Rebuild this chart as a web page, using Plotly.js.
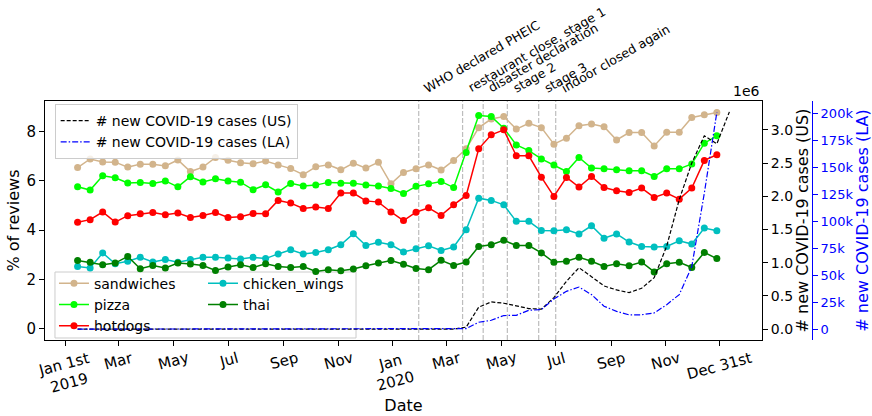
<!DOCTYPE html>
<html><head><meta charset="utf-8">
<script src="https://cdn.plot.ly/plotly-3.0.1.min.js"></script>
<style>html,body{margin:0;padding:0;background:#fff}</style>
</head><body><div id="chart" style="width:872px;height:416px"></div>
<script>
const dates = ['2019-01-14','2019-01-28','2019-02-11','2019-02-25','2019-03-11','2019-03-25','2019-04-08','2019-04-22','2019-05-06','2019-05-20','2019-06-03','2019-06-17','2019-07-01','2019-07-15','2019-07-29','2019-08-12','2019-08-26','2019-09-09','2019-09-23','2019-10-07','2019-10-21','2019-11-04','2019-11-18','2019-12-02','2019-12-16','2019-12-30','2020-01-13','2020-01-27','2020-02-10','2020-02-24','2020-03-09','2020-03-23','2020-04-06','2020-04-20','2020-05-04','2020-05-18','2020-06-01','2020-06-15','2020-06-29','2020-07-13','2020-07-27','2020-08-10','2020-08-24','2020-09-07','2020-09-21','2020-10-05','2020-10-19','2020-11-02','2020-11-16','2020-11-30','2020-12-14','2020-12-28','2021-01-11'];
const sandwiches = [6.54,6.89,6.77,6.76,6.56,6.68,6.68,6.61,6.85,6.38,6.56,6.95,6.84,6.74,6.70,6.81,6.65,6.50,6.25,6.57,6.65,6.45,6.72,6.52,6.76,5.88,6.34,6.49,6.65,6.44,6.83,7.30,8.16,8.51,8.61,8.10,8.34,8.16,7.49,7.73,8.24,8.31,8.20,7.66,7.96,7.96,7.42,7.97,7.97,8.57,8.68,8.77];
const pizza = [5.76,5.63,6.21,6.13,5.92,5.94,5.90,6.00,5.76,6.17,5.96,6.09,6.00,5.95,5.64,5.84,5.55,5.90,5.79,5.83,5.94,5.91,5.91,5.83,5.79,5.69,5.49,5.78,5.88,5.98,5.73,7.15,8.65,8.61,8.14,7.46,7.23,6.89,6.65,6.38,6.95,6.52,6.49,6.45,6.41,6.41,6.18,6.49,6.49,6.69,7.53,7.83];
const hotdogs = [4.32,4.43,4.74,4.33,4.59,4.67,4.72,4.63,4.70,4.52,4.60,4.72,4.52,4.55,4.68,4.67,5.21,5.10,4.88,4.94,4.88,5.51,5.51,5.19,5.14,4.74,4.39,4.73,4.91,4.60,5.03,5.41,7.30,7.87,8.07,7.02,7.02,6.15,5.37,6.14,5.75,6.18,5.73,5.60,5.53,5.71,5.33,5.51,5.26,5.71,6.83,7.06];
const chickenWings = [2.53,2.47,3.08,2.64,2.74,2.90,2.71,2.81,2.70,2.81,2.90,2.90,2.87,2.83,2.90,2.85,3.04,3.21,3.04,3.10,3.21,3.41,3.86,3.38,3.51,3.41,3.12,3.25,3.37,3.18,3.32,4.02,5.30,5.21,5.03,4.36,4.36,3.99,3.98,4.02,3.85,4.18,3.68,3.85,3.52,3.34,3.32,3.34,3.57,3.44,4.09,3.98];
const thai = [2.77,2.70,2.60,2.67,2.94,2.44,2.57,2.47,2.67,2.63,2.57,2.37,2.51,2.60,2.49,2.64,2.53,2.49,2.53,2.33,2.40,2.36,2.43,2.56,2.67,2.77,2.62,2.45,2.40,2.78,2.57,2.71,3.34,3.41,3.59,3.38,3.38,3.08,2.70,2.74,2.90,2.74,2.53,2.64,2.56,2.71,2.31,2.64,2.70,2.49,3.10,2.85];
const usCases = [0,0,0,0,0,0,0,0,0,0,0,0,0,0,0,0,0,0,0,0,0,0,0,0,0,0,0,0,0,0,0,30000,330000,410000,390000,350000,310000,300000,475000,720000,925000,790000,650000,590000,550000,615000,775000,1250000,1950000,2500000,2910000,2790000,3270000];
const laCases = [0,0,0,0,0,0,0,0,0,0,0,0,0,0,0,0,0,0,0,0,0,0,0,0,0,0,0,0,0,0,0,500,6400,8200,12600,12800,17500,18100,28000,35000,39000,32000,21200,16500,13200,13300,15000,22700,32000,58000,126000,201000];
const tickDates = ['2019-01-01','2019-03-01','2019-05-01','2019-07-01','2019-09-01','2019-11-01','2020-01-01','2020-03-01','2020-05-01','2020-07-01','2020-09-01','2020-11-01','2020-12-31'];
const tickLabels = ['Jan 1st<br>2019','Mar','May','Jul','Sep','Nov','Jan<br>2020','Mar','May','Jul','Sep','Nov','Dec 31st'];
const eventDates = ['2020-01-30','2020-03-19','2020-04-11','2020-05-08','2020-06-12','2020-07-01'];
const eventLabels = ['WHO declared PHEIC','restaurant close, stage 1','disaster declaration','stage 2','stage 3','indoor closed again'];
const usTicks = [0,500000,1000000,1500000,2000000,2500000,3000000];
const usTickText = ['0.0','0.5','1.0','1.5','2.0','2.5','3.0'];
const laTicks = [0,25000,50000,75000,100000,125000,150000,175000,200000];
const laTickText = ['0','25k','50k','75k','100k','125k','150k','175k','200k'];

const F = 'DejaVu Sans, sans-serif';
const nReview = sandwiches.length;
const rDates = dates.slice(0, nReview);

function food(name, vals, color, legend) {
  return {x: rDates, y: vals, name: name, type: 'scatter', mode: 'lines+markers',
    line: {color: color, width: 1.5}, marker: {color: color, size: 7},
    xaxis: 'x', yaxis: 'y', legend: legend};
}
const traces = [
  food('sandwiches', sandwiches, '#d2b48c', 'legend2'),
  food('pizza', pizza, '#00ff00', 'legend2'),
  food('hotdogs', hotdogs, '#ff0000', 'legend2'),
  food('chicken_wings', chickenWings, '#00bfbf', 'legend3'),
  food('thai', thai, '#008000', 'legend3'),
  {x: dates.slice(0, usCases.length), y: usCases, name: '# new COVID-19 cases (US)', type: 'scatter', mode: 'lines',
   line: {color: '#000000', width: 1.2, dash: '4px,2px'}, xaxis: 'x', yaxis: 'y2', legend: 'legend'},
  {x: dates.slice(0, laCases.length), y: laCases, name: '# new COVID-19 cases (LA)', type: 'scatter', mode: 'lines',
   line: {color: '#0000ff', width: 1.2, dash: '6px,2px,1.5px,2px'}, xaxis: 'x', yaxis: 'y3', legend: 'legend'}
];

const shapes = eventDates.map(d => ({type: 'line', xref: 'x', yref: 'paper', x0: d, x1: d, y0: 0, y1: 1,
  line: {color: '#bdbdbd', width: 1.2, dash: '5px,2px'}, layer: 'below'}));
shapes.push({type: 'rect', xref: 'paper', yref: 'paper', x0: 0.013, x1: 0.4055, y0: 0.0084, y1: 0.2845,
  line: {color: '#cccccc', width: 1}, fillcolor: 'rgba(255,255,255,0.8)', layer: 'below'});

const annotations = eventDates.map((d, i) => ({x: d, xref: 'x', y: 1, yref: 'paper', text: eventLabels[i],
  showarrow: false, textangle: -30, xanchor: 'left', yanchor: 'bottom', yshift: 3,
  font: {family: F, size: 12.5, color: '#000'}}));
annotations.push({x: 0.9348, xref: 'paper', y: 1, yref: 'paper', text: '1e6', showarrow: false,
  xanchor: 'right', yanchor: 'bottom', font: {family: F, size: 14, color: '#000'}});
tickLabels.forEach((t, i) => annotations.push({x: tickDates[i], xref: 'x', y: 0, yref: 'paper', yshift: -6,
  text: t, showarrow: false, textangle: -15, xanchor: 'center', yanchor: 'top', align: 'center',
  font: {family: F, size: 15, color: '#000'}}));

const legBase = {xanchor: 'left', yanchor: 'top', font: {family: F, size: 14, color: '#000'}, tracegroupgap: 0};
const layout = {
  width: 872, height: 416,
  margin: {l: 45, r: 60, t: 101, b: 76},
  paper_bgcolor: '#ffffff', plot_bgcolor: '#ffffff',
  font: {family: F, color: '#000'},
  showlegend: true,
  xaxis: {type: 'date', domain: [0, 0.9348], range: ['2018-12-08 14:00', '2021-02-16 10:00'],
    tickmode: 'array', tickvals: tickDates, showticklabels: false,
    ticks: 'outside', ticklen: 5, tickcolor: '#000', showline: true, mirror: true, linecolor: '#000', linewidth: 1,
    showgrid: false, zeroline: false, tickfont: {family: F, size: 15, color: '#000'},
    title: {text: 'Date', font: {family: F, size: 16, color: '#000'}, standoff: 54}, automargin: false},
  yaxis: {range: [-0.45, 9.24], tickmode: 'array', tickvals: [0, 2, 4, 6, 8], ticktext: ['0','2','4','6','8'],
    ticks: 'outside', ticklen: 5, tickcolor: '#000', showline: true, mirror: true, linecolor: '#000', linewidth: 1,
    showgrid: false, zeroline: false, tickfont: {family: F, size: 15, color: '#000'},
    title: {text: '% of reviews', font: {family: F, size: 16, color: '#000'}, standoff: 2}, automargin: false},
  yaxis2: {overlaying: 'y', side: 'right', anchor: 'x', range: [-163500, 3433500],
    tickmode: 'array', tickvals: usTicks, ticktext: usTickText,
    ticks: 'outside', ticklen: 5, tickcolor: '#000', showline: true, linecolor: '#000', linewidth: 1,
    showgrid: false, zeroline: false, tickfont: {family: F, size: 14, color: '#000'},
    title: {text: '# new COVID-19 cases (US)', font: {family: F, size: 16, color: '#000'}, standoff: 4}, automargin: false},
  yaxis3: {overlaying: 'y', side: 'right', anchor: 'free', position: 1, range: [-10070, 211400],
    tickmode: 'array', tickvals: laTicks, ticktext: laTickText,
    ticks: 'outside', ticklen: 5, tickcolor: '#0000ff', showline: true, linecolor: '#0000ff', linewidth: 1,
    showgrid: false, zeroline: false, tickfont: {family: F, size: 13, color: '#0000ff'},
    title: {text: '# new COVID-19 cases (LA)', font: {family: F, size: 16, color: '#0000ff'}, standoff: 8}, automargin: false},
  legend: Object.assign({}, legBase, {x: 0.0126, y: 0.9874, bgcolor: 'rgba(255,255,255,0.8)', bordercolor: '#cccccc', borderwidth: 1}),
  legend2: Object.assign({}, legBase, {x: 0.0117, y: 0.3025, bgcolor: 'rgba(0,0,0,0)', borderwidth: 0}),
  legend3: Object.assign({}, legBase, {x: 0.206, y: 0.3025, bgcolor: 'rgba(0,0,0,0)', borderwidth: 0}),
  shapes: shapes,
  annotations: annotations
};
Plotly.newPlot('chart', traces, layout, {displayModeBar: false, staticPlot: true});
</script></body></html>
